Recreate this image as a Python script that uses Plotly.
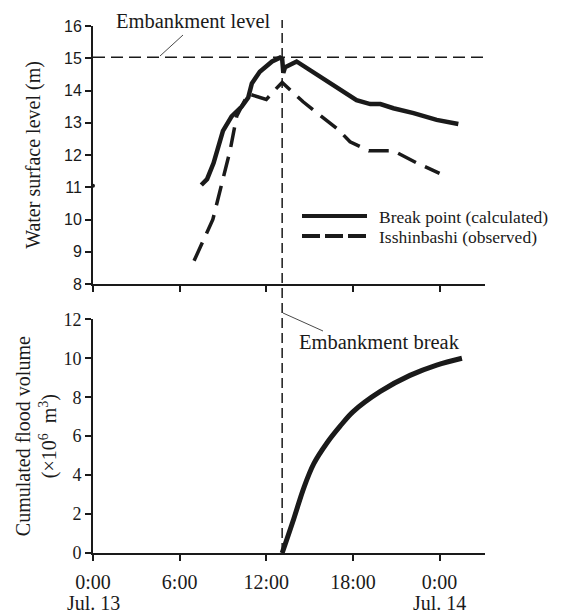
import plotly.graph_objects as go

# ---- data (hours from 0:00 Jul. 13) ----
calc_hours = [7.5, 7.9, 8.35, 9.0, 9.6, 10.3, 10.75, 11.0, 11.55, 12.4, 12.95, 13.1, 13.18, 13.3,
              14.1, 15.7, 16.9, 18.25, 19.2, 19.9, 20.8, 22.2, 23.8, 25.3]
calc_level = [11.07, 11.25, 11.75, 12.75, 13.2, 13.5, 13.78, 14.22, 14.58, 14.9, 15.02, 14.98, 14.55, 14.72,
              14.9, 14.43, 14.07, 13.7, 13.58, 13.58, 13.45, 13.3, 13.09, 12.96]

obs_hours = [7.0, 8.3, 9.5, 9.95, 10.75, 12.0, 12.45, 13.1, 14.55, 17.0, 17.8, 19.1, 20.8, 22.4, 24.0]
obs_level = [8.72, 10.0, 12.15, 13.2, 13.9, 13.72, 13.95, 14.25, 13.65, 12.78, 12.41, 12.13, 12.13, 11.76, 11.43]

vol_hours = [13.1, 13.9, 14.6, 15.3, 16.2, 17.1, 18.0, 19.9, 21.95, 23.8, 25.55]
vol_value = [0.0, 1.75, 3.35, 4.6, 5.65, 6.5, 7.25, 8.3, 9.12, 9.65, 10.0]

stray_hours = [0.0]
stray_level = [11.05]

break_hour = 13.1
embankment_level = 15.03

x_tickvals = [0, 6, 12, 18, 24]
x_ticktext = ["0:00", "6:00", "12:00", "18:00", "0:00"]
date_labels = ["Jul. 13", "Jul. 14"]
date_hours = [0, 24]

series_names = ["Break point (calculated)", "Isshinbashi (observed)"]

INK = "#1a1a1a"
SERIF = "Liberation Serif, Times New Roman, serif"
SANS = "Liberation Sans, Arial, sans-serif"

# layout geometry (pixels)
W, H = 568, 614
L, R, T, B = 93, 83, 20, 61
PW, PH = W - L - R, H - T - B
XMAX = (485 - L) / 14.44


def px(xp):
    return (xp - L) / PW


def py(yp):
    return (H - B - yp) / PH


fig = go.Figure()

fig.add_trace(go.Scatter(x=calc_hours, y=calc_level, mode="lines", name=series_names[0], showlegend=False,
                         line=dict(color=INK, width=4.5), xaxis="x", yaxis="y"))
fig.add_trace(go.Scatter(x=obs_hours, y=obs_level, mode="lines", name=series_names[1], showlegend=False,
                         line=dict(color=INK, width=3.5, dash="20px,10px"), xaxis="x", yaxis="y"))
fig.add_trace(go.Scatter(x=stray_hours, y=stray_level, mode="markers", showlegend=False,
                         marker=dict(color=INK, size=4), cliponaxis=False, xaxis="x", yaxis="y"))
fig.add_trace(go.Scatter(x=vol_hours, y=vol_value, mode="lines", showlegend=False,
                         line=dict(color=INK, width=5, shape="spline"), xaxis="x2", yaxis="y2"))

axis_common = dict(showline=True, linecolor=INK, linewidth=2, ticks="outside", ticklen=6,
                   tickwidth=1.5, tickcolor=INK, showgrid=False, zeroline=False, automargin=False)

top_dom = [py(284), py(26)]
bot_dom = [0, py(319.3)]
xrange_ = [0, XMAX]

fig.update_layout(
    width=W, height=H,
    margin=dict(l=L, r=R, t=T, b=B),
    plot_bgcolor="white", paper_bgcolor="white",
    font=dict(family=SERIF, color=INK, size=18),
    showlegend=False,
    xaxis=dict(domain=[0, 1], range=xrange_, anchor="y", tickvals=x_tickvals,
               showticklabels=False, **axis_common),
    yaxis=dict(domain=top_dom, range=[8, 16], dtick=1, anchor="x",
               tickfont=dict(family=SANS, size=16, color=INK),
               title=dict(text="Water surface level (m)", font=dict(family=SERIF, size=20), standoff=18),
               **axis_common),
    xaxis2=dict(domain=[0, 1], range=xrange_, anchor="y2", tickvals=x_tickvals, ticktext=x_ticktext,
                tickfont=dict(family=SERIF, size=20, color=INK), ticklabelstandoff=4, **axis_common),
    yaxis2=dict(domain=bot_dom, range=[0, 12], dtick=2, anchor="x2",
                tickfont=dict(family=SERIF, size=18, color=INK),
                title=dict(text="Cumulated flood volume<br>(×10<sup>6</sup>  m<sup>3</sup>)",
                           font=dict(family=SERIF, size=20), standoff=1),
                **axis_common),
)

# date labels under the first and last ticks
for h, lab in zip(date_hours, date_labels):
    fig.add_annotation(text=lab, xref="x2", yref="paper", x=h, y=py(603), showarrow=False,
                       font=dict(family=SERIF, size=20, color=INK), xanchor="center", yanchor="middle")

# embankment level (horizontal dashed)
fig.add_shape(type="line", xref="paper", yref="y", x0=0, x1=px(488), y0=embankment_level,
              y1=embankment_level, line=dict(color=INK, width=1.5, dash="12px,6px"))
# embankment break (vertical dashed)
fig.add_shape(type="line", xref="x", yref="paper", x0=break_hour, x1=break_hour, y0=0, y1=1,
              line=dict(color=INK, width=1.5, dash="10px,5px"))

# leader lines
fig.add_shape(type="line", xref="paper", yref="paper", x0=px(160), y0=py(56), x1=px(183), y1=py(35),
              line=dict(color=INK, width=0.8))
fig.add_shape(type="line", xref="paper", yref="paper", x0=px(283), y0=py(313), x1=px(323), y1=py(331),
              line=dict(color=INK, width=0.8))

fig.add_annotation(text="Embankment level", xref="paper", yref="paper", x=px(193), y=py(21),
                   showarrow=False, font=dict(family=SERIF, size=20.5, color=INK),
                   xanchor="center", yanchor="middle")
fig.add_annotation(text="Embankment break", xref="paper", yref="paper", x=px(379), y=py(342),
                   showarrow=False, font=dict(family=SERIF, size=20.5, color=INK),
                   xanchor="center", yanchor="middle")

# legend (drawn key)
legend_rows = [(216, "solid"), (236, "18px,5px")]
for (ly, dash), name in zip(legend_rows, series_names):
    fig.add_shape(type="line", xref="paper", yref="paper", x0=px(302), x1=px(367), y0=py(ly), y1=py(ly),
                  line=dict(color=INK, width=4, dash=dash))
    fig.add_annotation(text=name, xref="paper", yref="paper", x=px(377), y=py(ly + 1), showarrow=False,
                       font=dict(family=SERIF, size=17.5, color=INK), xanchor="left", yanchor="middle")

fig.write_html("out.html", config={"displayModeBar": False},
               post_script="document.body.style.margin='0px';")
